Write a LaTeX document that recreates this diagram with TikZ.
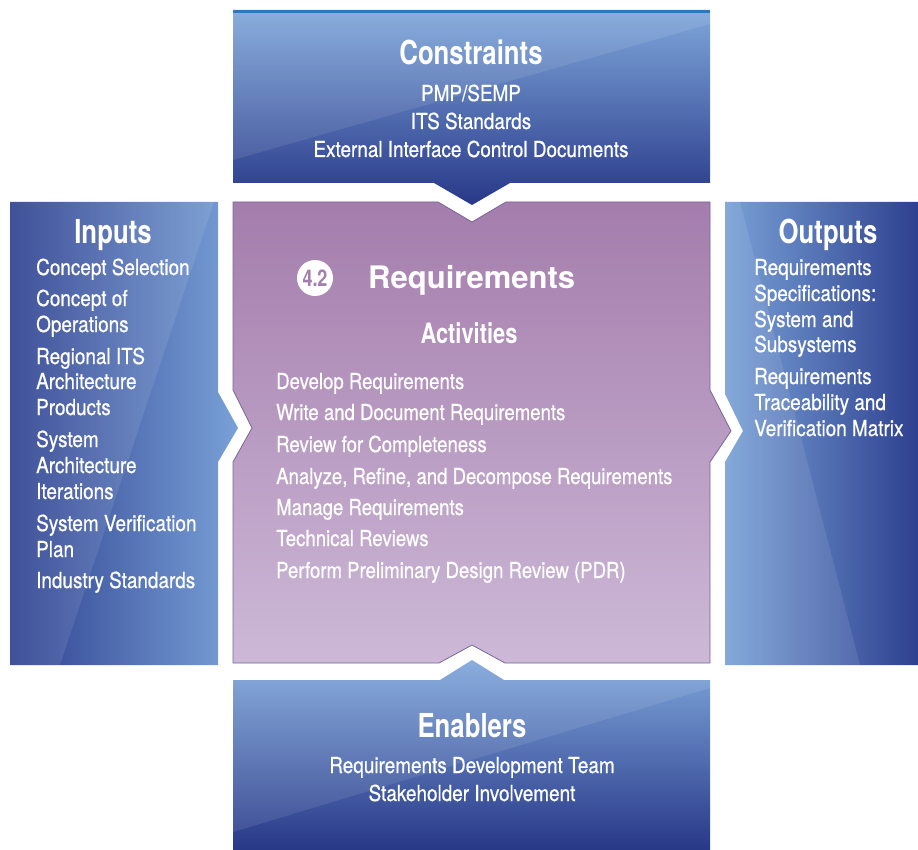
\documentclass[tikz,border=0pt]{standalone}
\usepackage{fontspec}
\setmainfont{TeX Gyre Heros}
\newfontfamily\bodyfont{TeX Gyre Heros}[FakeStretch=0.86,FakeBold=0.6]
\newfontfamily\actfont{TeX Gyre Heros}[FakeStretch=0.845,FakeBold=0.6]
\newfontfamily\headfont{TeX Gyre Heros}[FakeStretch=0.78]
\definecolor{bluelight}{HTML}{7EA6DA}
\definecolor{bluemid}{HTML}{4C70B8}
\definecolor{bluedark}{HTML}{283888}
\definecolor{bluetop}{HTML}{2A78C0}
\definecolor{purtop}{HTML}{A47DAC}
\definecolor{purbot}{HTML}{CDB9D7}
\definecolor{puredge}{HTML}{76669A}
\definecolor{purtext}{HTML}{A47EAD}
\tikzset{
  body/.style={text=white, font=\bodyfont\fontsize{22}{26}\selectfont, inner sep=0pt},
  actbody/.style={text=white, font=\actfont\fontsize{22}{26}\selectfont, inner sep=0pt},
  ttl/.style={text=white, font=\headfont\bfseries\fontsize{33}{38}\selectfont, inner sep=0pt},
  acttl/.style={text=white, font=\headfont\bfseries\fontsize{28}{32}\selectfont, inner sep=0pt},
  gloss/.style={fill=white, opacity=0.09},
}
\begin{document}
\begin{tikzpicture}[x=1pt,y=-1pt]
\useasboundingbox (0,0) rectangle (918,850);
% Constraints box
\shade[top color=bluelight, middle color=bluemid, bottom color=bluedark]
  (233,10) -- (710,10) -- (710,183) -- (510,183) -- (472,205) -- (434,183) -- (233,183) -- cycle;
\fill[gloss] (233,10) -- (710,10) -- (710,24) -- (233,160) -- cycle;
\fill[bluetop] (233,10) rectangle (710,13);
% Inputs box
\shade[left color=bluedark!85!bluemid, right color=bluelight!90!bluemid]
  (10,202) -- (218,202) -- (218,392) -- (238,428) -- (218,462) -- (218,665) -- (10,665) -- cycle;
\fill[gloss] (10,202) -- (214,202) -- (60,665) -- (10,665) -- cycle;
% Outputs box
\shade[left color=bluelight!90!bluemid, right color=bluedark!85!bluemid]
  (725,202) -- (918,202) -- (918,665) -- (725,665) -- (725,462) -- (743,431) -- (725,394) -- cycle;
\fill[gloss] (725,202) -- (740,202) -- (860,665) -- (725,665) -- (725,462) -- (743,431) -- (725,394) -- cycle;
% Enablers box
\shade[top color=bluelight, middle color=bluemid, bottom color=bluedark]
  (233,680) -- (440,680) -- (472,660) -- (504,680) -- (710,680) -- (710,850) -- (233,850) -- cycle;
\fill[gloss] (233,680) -- (440,680) -- (472,660) -- (504,680) -- (710,680) -- (710,688) -- (233,832) -- cycle;
% Central purple box
\shadedraw[top color=purtop, bottom color=purbot, draw=puredge, line width=0.8pt]
  (233,202) -- (438,202) -- (472,222) -- (506,202) -- (710,202) -- (710,390) -- (731,431) -- (710,462)
  -- (710,663) -- (505,663) -- (472,645) -- (439,663) -- (233,663) -- (233,462) -- (252,428) -- (233,390) -- cycle;

% Constraints text
\node[ttl, anchor=base] (ctitle) at (471,65) {Constraints};
\node[body, anchor=base] (c1) at (471,101) {PMP/SEMP};
\node[body, anchor=base] (c2) at (471,129) {ITS Standards};
\node[body, anchor=base] (c3) at (471,157) {External Interface Control Documents};

% Inputs text
\node[ttl, anchor=base] (ititle) at (113,244) {Inputs};
\foreach \t/\y [count=\i] in {Concept Selection/275, Concept of/306, Operations/332,
  Regional ITS/364, Architecture/389, Products/415, System/447, Architecture/473,
  Iterations/499, System Verification/531, Plan/557, Industry Standards/588}
  \node[body, anchor=base west] (in\i) at (36,\y) {\t};

% Outputs text
\node[ttl, anchor=base] (otitle) at (828,244) {Outputs};
\foreach \t/\y [count=\i] in {Requirements/275, Specifications:/301, System and/327,
  Subsystems/352, Requirements/384, Traceability and/410, Verification Matrix/436}
  \node[body, anchor=base west] (out\i) at (754,\y) {\t};

% Center text
\node[circle, fill=white, minimum size=36pt, inner sep=0pt, text=purtext,
  font=\headfont\bfseries\fontsize{23}{24}\selectfont] (num) at (315,278) {4.2};
\node[text=white, font=\bfseries\fontsize{31}{36}\selectfont, inner sep=0pt, anchor=base west] (req) at (368,289) {Requirements};
\node[acttl, anchor=base] (act) at (469,343) {Activities};
\foreach \t/\y [count=\i] in {Develop Requirements/389, Write and Document Requirements/420,
  Review for Completeness/452, {Analyze, Refine, and Decompose Requirements}/484,
  Manage Requirements/515, Technical Reviews/546, Perform Preliminary Design Review (PDR)/578}
  \node[actbody, anchor=base west] (a\i) at (276,\y) {\t};

% Enablers text
\node[ttl, anchor=base] (etitle) at (472,737) {Enablers};
\node[body, anchor=base] (e1) at (472,773) {Requirements Development Team};
\node[body, anchor=base] (e2) at (472,801) {Stakeholder Involvement};
\end{tikzpicture}
\end{document}
